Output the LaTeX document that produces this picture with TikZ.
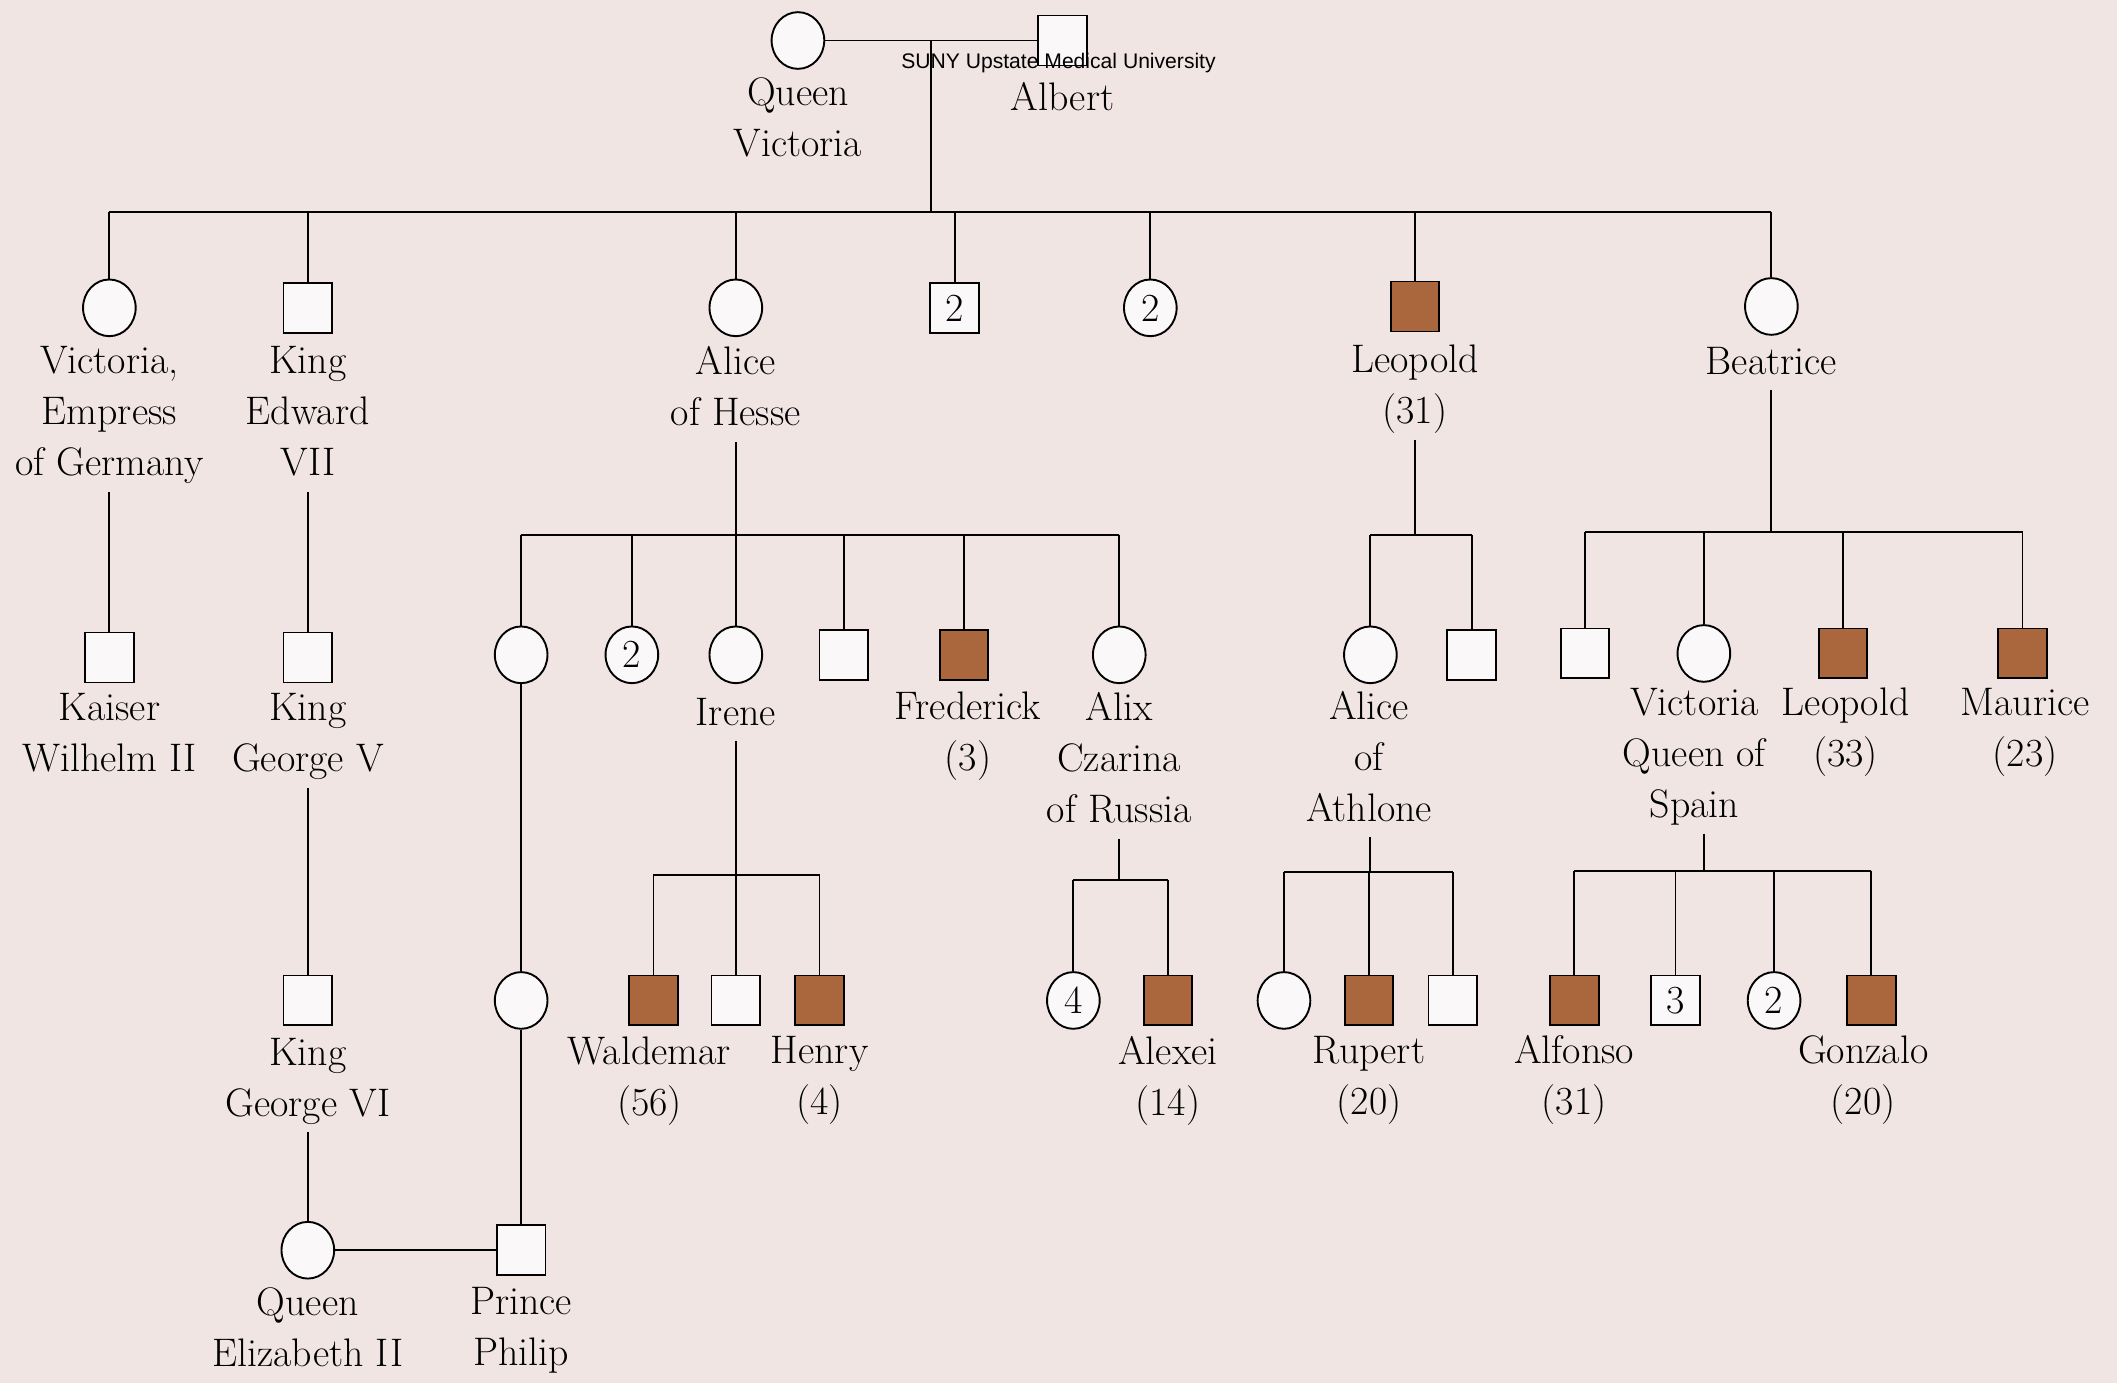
\documentclass[tikz,border=0pt]{standalone}
\usepackage{fontspec}
\newfontfamily\wmfont{Liberation Sans}
\usetikzlibrary{shapes.geometric}
\definecolor{pagebg}{RGB}{240,229,227}
\definecolor{affbrown}{RGB}{170,102,60}
\definecolor{symfill}{RGB}{250,248,248}
\newcommand{\labfont}{\fontsize{16.8}{21.5}\selectfont}

\begin{document}
\begin{tikzpicture}[
x=0.02cm, y=-0.02cm,
line width=0.8pt,
female/.style={ellipse, draw, fill=symfill, minimum width=0.78cm, minimum height=0.84cm, inner sep=0pt, font=\labfont},
male/.style={rectangle, draw, fill=symfill, minimum width=0.72cm, minimum height=0.74cm, inner sep=0pt, font=\labfont},
affected/.style={fill=affbrown},
who/.style={font=\labfont, align=center, inner sep=0pt, anchor=north,
  execute at begin node=\strut, execute at end node=\strut}
]

\useasboundingbox (0,0) rectangle (1568,1024);
\fill[pagebg] (0,0) rectangle (1568,1024);

% generation I
\node[female] (qv) at (591,30) {};
\node[male] (alb) at (787,30) {};
\node[who] (qvTxt) at (591,57) {Queen\\Victoria};
\node[who] (albTxt) at (787,55) {Albert};

% generation II
\node[female] (vicE) at (81,228) {};
\node[male] (edw) at (228,228) {};
\node[female] (alice) at (545,228) {};
\node[male] (m2) at (707,228) {2};
\node[female] (f2) at (852,228) {2};
\node[male, affected] (leo) at (1048,227) {};
\node[female] (bea) at (1312,227) {};

\node[who] (vicEtxt) at (81,256) {Victoria,\\Empress\\of Germany};
\node[who] (edwTxt) at (228,256) {King\\Edward\\VII};
\node[who] (aliceTxt) at (545,256) {Alice\\of Hesse};
\node[who] (leoTxt) at (1048,255) {Leopold\\(31)};
\node[who] (beaTxt) at (1312,250) {Beatrice};

% generation III
\node[male] (kaiser) at (81,487) {};
\node[male] (geo5) at (228,487) {};
\node[female] (vhes) at (386,485) {};
\node[female] (h2) at (468,485) {2};
\node[female] (irene) at (545,485) {};
\node[male] (hsq) at (625,485) {};
\node[male, affected] (fred) at (714,485) {};
\node[female] (alix) at (829,485) {};
\node[female] (ath) at (1015,485) {};
\node[male] (lsq) at (1090,485) {};
\node[male] (bsq) at (1174,484) {};
\node[female] (vqs) at (1262,484) {};
\node[male, affected] (leo2) at (1365,484) {};
\node[male, affected] (mau) at (1498,484) {};

\node[who] (kaiserTxt) at (81,513) {Kaiser\\Wilhelm II};
\node[who] (geo5Txt) at (228,513) {King\\George V};
\node[who] (ireneTxt) at (545,510) {Irene};
\node[who] (fredTxt) at (717,512) {Frederick\\(3)};
\node[who] (alixTxt) at (829,512) {Alix\\Czarina\\of Russia};
\node[who] (athTxt) at (1014,511) {Alice\\of\\Athlone};
\node[who] (vqsTxt) at (1255,509) {Victoria\\Queen of\\Spain};
\node[who] (leo2Txt) at (1367,509) {Leopold\\(33)};
\node[who] (mauTxt) at (1500,509) {Maurice\\(23)};

% generation IV
\node[male] (geo6) at (228,741) {};
\node[female] (aba) at (386,741) {};
\node[male, affected] (wald) at (484,741) {};
\node[male] (isq) at (545,741) {};
\node[male, affected] (hen) at (607,741) {};
\node[female] (a4) at (795,741) {4};
\node[male, affected] (alex) at (865,741) {};
\node[female] (athc) at (951,741) {};
\node[male, affected] (rup) at (1014,741) {};
\node[male] (athsq) at (1076,741) {};
\node[male, affected] (alf) at (1166,741) {};
\node[male] (s3) at (1241,741) {3};
\node[female] (c2) at (1314,741) {2};
\node[male, affected] (gon) at (1386,741) {};

\node[who] (geo6Txt) at (228,768) {King\\George VI};
\node[who] (waldTxt) at (481,767) {Waldemar\\(56)};
\node[who] (henTxt) at (607,767) {Henry\\(4)};
\node[who] (alexTxt) at (865,767) {Alexei\\(14)};
\node[who] (rupTxt) at (1014,767) {Rupert\\(20)};
\node[who] (alfTxt) at (1166,766) {Alfonso\\(31)};
\node[who] (gonTxt) at (1380,766) {Gonzalo\\(20)};

% generation V
\node[female] (qe2) at (228,926) {};
\node[male] (phil) at (386,926) {};
\node[who] (qe2Txt) at (228,953) {Queen\\Elizabeth II};
\node[who] (philTxt) at (386,953) {Prince\\Philip};

% sibship bars
\coordinate (bar1) at (0,157);
\coordinate (bar2) at (0,396);
\coordinate (bar3) at (0,648);
\coordinate (bar4) at (0,652);
\coordinate (bar5) at (0,396);
\coordinate (bar6) at (0,646);
\coordinate (bar7) at (0,394);
\coordinate (bar8) at (0,645);

\draw (qv) -- (alb) coordinate[midway] (qvalb);
\draw (qvalb) -- (qvalb |- bar1);
\draw (vicE |- bar1) -- (bea |- bar1);
\foreach \c in {vicE,edw,alice,m2,f2,leo,bea} \draw (\c |- bar1) -- (\c);

\draw (kaiser |- vicEtxt.south) -- (kaiser);
\draw (geo5 |- edwTxt.south) -- (geo5);
\draw (geo6 |- geo5Txt.south) -- (geo6);
\draw (qe2 |- geo6Txt.south) -- (qe2);
\draw (qe2) -- (phil);

\draw (alice |- aliceTxt.south) -- (alice |- bar2);
\draw (vhes |- bar2) -- (alix |- bar2);
\foreach \c in {vhes,h2,irene,hsq,fred,alix} \draw (\c |- bar2) -- (\c);
\draw (vhes) -- (aba);
\draw (aba) -- (phil);

\draw (irene |- ireneTxt.south) -- (irene |- bar3);
\draw (wald |- bar3) -- (hen |- bar3);
\foreach \c in {wald,isq,hen} \draw (\c |- bar3) -- (\c);

\draw (alix |- alixTxt.south) -- (alix |- bar4);
\draw (a4 |- bar4) -- (alex |- bar4);
\foreach \c in {a4,alex} \draw (\c |- bar4) -- (\c);

\draw (leo |- leoTxt.south) -- (leo |- bar5);
\draw (ath |- bar5) -- (lsq |- bar5);
\foreach \c in {ath,lsq} \draw (\c |- bar5) -- (\c);

\draw (ath |- athTxt.south) -- (ath |- bar6);
\draw (athc |- bar6) -- (athsq |- bar6);
\foreach \c in {athc,rup,athsq} \draw (\c |- bar6) -- (\c);

\draw (bea |- beaTxt.south) -- (bea |- bar7);
\draw (bsq |- bar7) -- (mau |- bar7);
\foreach \c in {bsq,vqs,leo2,mau} \draw (\c |- bar7) -- (\c);

\draw (vqs |- vqsTxt.south) -- (vqs |- bar8);
\draw (alf |- bar8) -- (gon |- bar8);
\foreach \c in {alf,s3,c2,gon} \draw (\c |- bar8) -- (\c);

\node[font=\wmfont\fontsize{8.9}{10}\selectfont, inner sep=0pt] (wm) at (784,47) {SUNY Upstate Medical University};
\end{tikzpicture}
\end{document}
